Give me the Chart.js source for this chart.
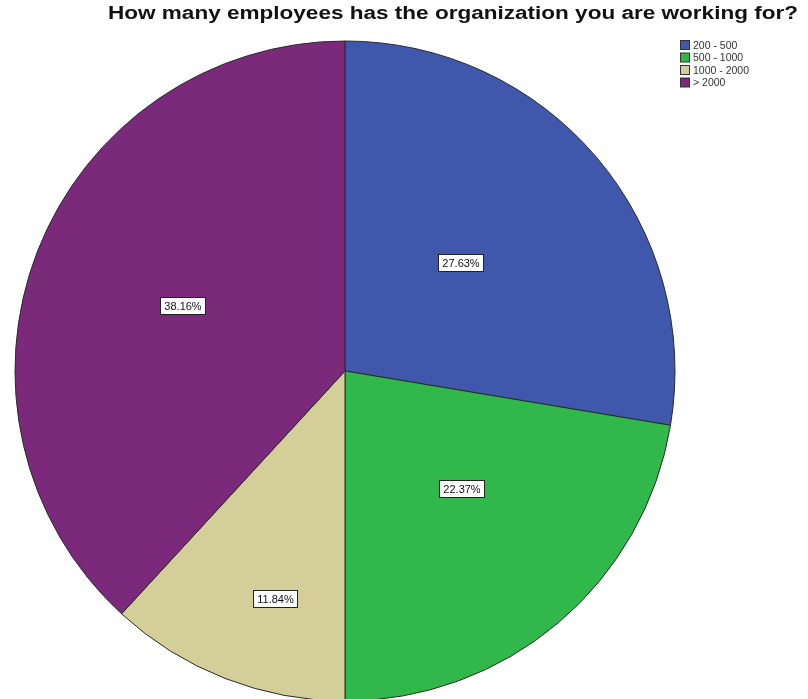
<!DOCTYPE html>
<html>
  <head>
    <title>Employees</title>
    <script src="https://cdn.jsdelivr.net/npm/chart.js"></script>
    <style>
      body { margin: 0; background: #fff; }
    </style>
  </head>
  <body>
    <canvas id="pie-chart" width="808" height="699"></canvas>

    <script>
      const titleText = "How many employees has the organization you are working for?";
      const categories = ["200 - 500", "500 - 1000", "1000 - 2000", "> 2000"];
      const percents = [27.63, 22.37, 11.84, 38.16];
      const colors = ["#3f58ab", "#30b84a", "#d4cf98", "#7b297b"];

      // where SPSS put the percent boxes: share of radius and angle nudge (deg)
      const labelRadius = [0.48, 0.5, 0.72, 0.53];
      const labelShift = [-3, -4.5, -4.2, 0.6];

      const extras = {
        id: "extras",
        afterDatasetsDraw(chart) {
          const ctx = chart.ctx;
          const arcs = chart.getDatasetMeta(0).data;
          ctx.save();
          ctx.font = "11px Arial";
          ctx.textAlign = "center";
          ctx.textBaseline = "middle";
          arcs.forEach((arc, i) => {
            const mid = (arc.startAngle + arc.endAngle) / 2 + (labelShift[i] * Math.PI) / 180;
            const r = arc.outerRadius * labelRadius[i];
            const x = arc.x + Math.cos(mid) * r;
            const y = arc.y + Math.sin(mid) * r;
            const txt = percents[i].toFixed(2) + "%";
            const w = Math.round(ctx.measureText(txt).width + 8);
            const h = 17;
            const bx = Math.round(x - w / 2) + 0.5;
            const by = Math.round(y - h / 2) + 0.5;
            ctx.fillStyle = "#fff";
            ctx.fillRect(bx, by, w, h);
            ctx.strokeStyle = "#222";
            ctx.lineWidth = 1;
            ctx.strokeRect(bx, by, w, h);
            ctx.fillStyle = "#111";
            ctx.fillText(txt, bx + w / 2, by + h / 2 + 1);
          });
          ctx.restore();
        },
        afterDraw(chart) {
          const ctx = chart.ctx;
          ctx.save();
          // title (the source image is stretched sideways)
          ctx.font = "bold 18px Arial";
          ctx.fillStyle = "#111";
          ctx.textAlign = "center";
          ctx.textBaseline = "middle";
          ctx.translate(453, 14);
          ctx.scale(690 / ctx.measureText(titleText).width, 1);
          ctx.fillText(titleText, 0, 0);
          ctx.restore();

          // legend
          ctx.save();
          ctx.font = "10.5px Arial";
          ctx.textAlign = "left";
          ctx.textBaseline = "middle";
          categories.forEach((c, i) => {
            const y = 45 + i * 12.5;
            ctx.fillStyle = colors[i];
            ctx.fillRect(680.5, y - 4.5, 9, 9);
            ctx.strokeStyle = "#333";
            ctx.strokeRect(680.5, y - 4.5, 9, 9);
            ctx.fillStyle = "#333";
            ctx.fillText(c, 693, y + 1);
          });
          ctx.restore();
        },
      };

      new Chart(document.getElementById("pie-chart"), {
        type: "pie",
        data: {
          labels: categories,
          datasets: [
            {
              data: percents,
              backgroundColor: colors,
              borderColor: "#2a2a2a",
              borderWidth: 1,
            },
          ],
        },
        options: {
          responsive: false,
          animation: false,
          radius: 330,
          layout: { padding: { left: 15, right: 133, top: 43, bottom: 0 } },
          plugins: {
            legend: { display: false },
            tooltip: { enabled: false },
          },
        },
        plugins: [extras],
      });
    </script>
  </body>
</html>
